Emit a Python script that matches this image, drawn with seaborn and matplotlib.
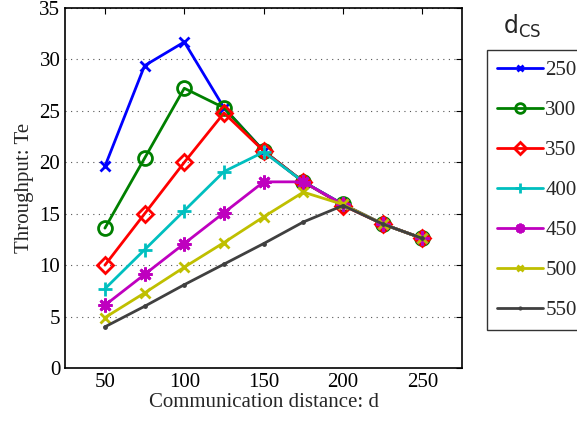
import matplotlib
matplotlib.use("Agg")
import matplotlib.pyplot as plt
import seaborn as sns
import pandas as pd
from matplotlib.lines import Line2D

distances = [50, 75, 100, 125, 150, 175, 200, 225, 250]
d_cs = ["250", "300", "350", "400", "450", "500", "550"]
thr_250 = [19.6, 29.4, 31.7, 25.3, 21.1, 18.1, 15.9, 14.0, 12.6]
thr_300 = [13.6, 20.4, 27.2, 25.3, 21.1, 18.1, 15.9, 14.0, 12.6]
thr_350 = [10.0, 15.0, 20.0, 24.8, 21.1, 18.1, 15.8, 14.0, 12.6]
thr_400 = [7.7, 11.5, 15.3, 19.1, 21.0, 18.1, 15.9, 14.0, 12.6]
thr_450 = [6.1, 9.1, 12.1, 15.1, 18.1, 18.1, 15.9, 14.0, 12.6]
thr_500 = [4.9, 7.3, 9.8, 12.2, 14.7, 17.1, 15.9, 14.0, 12.6]
thr_550 = [4.0, 6.0, 8.1, 10.1, 12.1, 14.2, 15.8, 14.0, 12.6]
series = [thr_250, thr_300, thr_350, thr_400, thr_450, thr_500, thr_550]

colors = ["#0000ff", "#008000", "#ff0000", "#00bfbf", "#bf00bf", "#bfbf00", "#404040"]
markers = ["x", "o", "D", "+", (8, 2, 0), "x", "."]
msizes = [7, 10, 8, 10, 10, 7, 3]
leg_msizes = [5, 7, 6, 7, 7, 5, 2]
filled = [True, False, False, True, True, True, True]

rows = []
for lab, vals in zip(d_cs, series):
    for d, v in zip(distances, vals):
        rows.append({"d": d, "thr": v, "dcs": lab})
df = pd.DataFrame(rows)

sns.set_style("white")
plt.rcParams["font.family"] = ["Liberation Serif", "DejaVu Serif"]
plt.rcParams["mathtext.fontset"] = "dejavusans"

fig = plt.figure(figsize=(5.77, 4.23), dpi=100)
ax = fig.add_axes([0.113, 0.130, 0.688, 0.851])

for i, lab in enumerate(d_cs):
    sub = df[df["dcs"] == lab]
    sns.lineplot(data=sub, x="d", y="thr", ax=ax, color=colors[i], marker=markers[i],
                 markersize=msizes[i], linewidth=2,
                 markerfacecolor=(colors[i] if filled[i] else "none"),
                 markeredgecolor=colors[i], markeredgewidth=2, legend=False)

ax.set_xlim(25, 275)
ax.set_ylim(0, 35)
ax.set_xticks([50, 100, 150, 200, 250])
ax.set_yticks(range(0, 36, 5))
ax.yaxis.grid(True, linestyle=(0, (1, 4)), color="#555555", linewidth=0.8)
ax.xaxis.grid(False)
ax.tick_params(direction="in", top=True, right=True, labelsize=15, length=4, width=0.8, colors="black")
for s in ax.spines.values():
    s.set_color("black")
    s.set_linewidth(1.2)
ax.set_xlabel("Communication distance: d", fontsize=15, labelpad=1)
ax.set_ylabel("Throughput: Te", fontsize=15, labelpad=4)

handles = []
for i, lab in enumerate(d_cs):
    handles.append(Line2D([0], [0], color=colors[i], marker=markers[i], markersize=leg_msizes[i],
                          linewidth=2, markeredgewidth=2,
                          markerfacecolor=(colors[i] if filled[i] else "none"),
                          markeredgecolor=colors[i]))
leg = fig.legend(handles, d_cs, loc="upper left", bbox_to_anchor=(0.844, 0.882),
                 frameon=True, fancybox=False, fontsize=15, handlelength=2.2,
                 handletextpad=0.1, labelspacing=0.98, borderpad=0.5, borderaxespad=0)
leg.get_frame().set_edgecolor("black")
leg.get_frame().set_linewidth(1.0)
fig.text(0.905, 0.905, r"$\mathregular{d_{CS}}$", fontsize=17, ha="center", va="bottom",
         family="DejaVu Sans")

fig.savefig("out.png", dpi=100)
